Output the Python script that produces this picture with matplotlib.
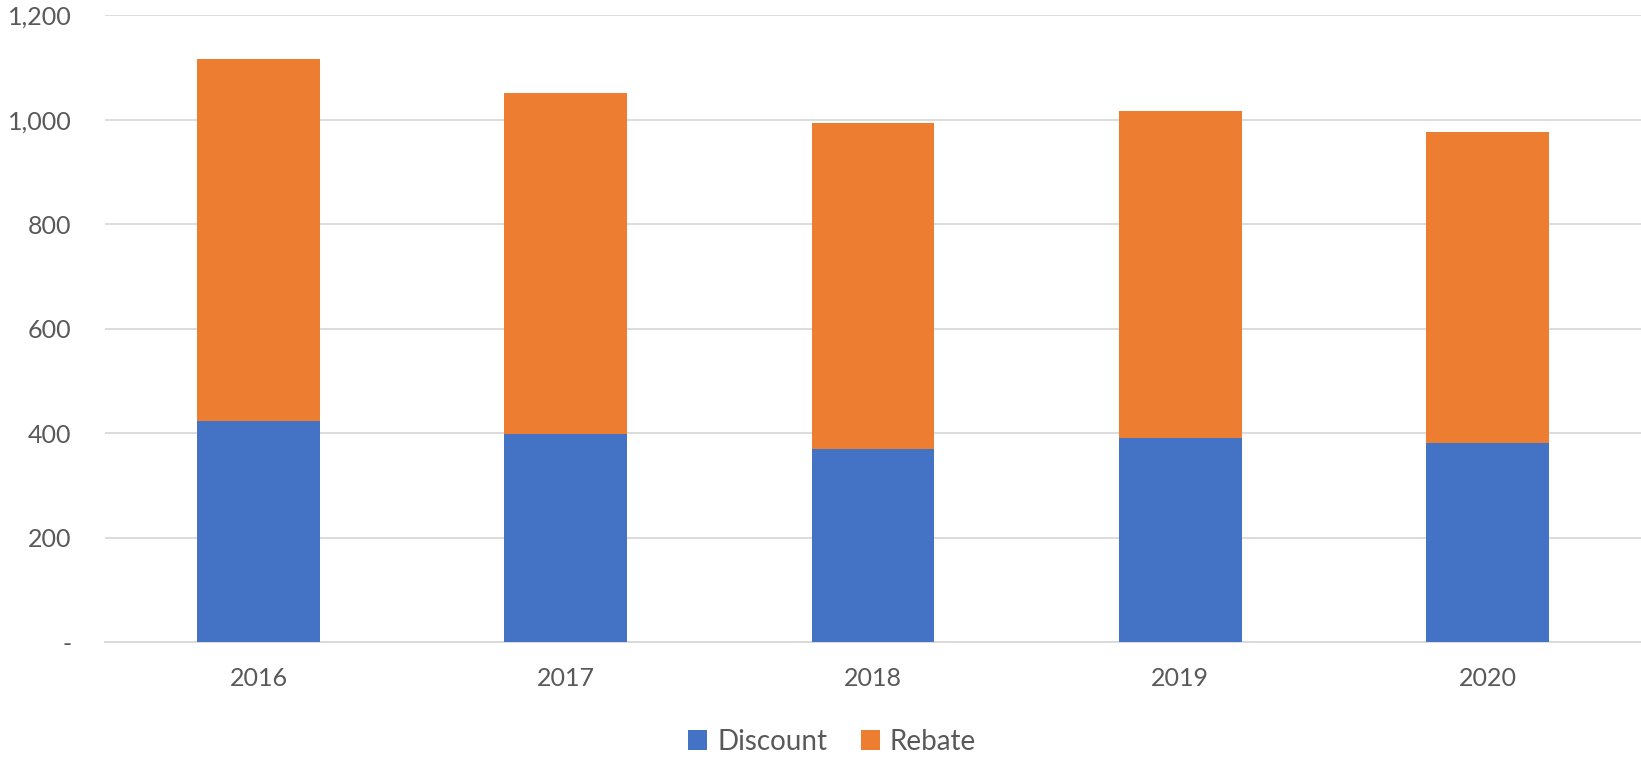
import matplotlib.pyplot as plt
from matplotlib.ticker import FuncFormatter

years = ['2016', '2017', '2018', '2019', '2020']
discount = [423, 398, 370, 390, 381]
rebate = [693, 653, 623, 626, 596]

plt.rcParams['font.family'] = ['Lato', 'DejaVu Sans']
text_color = '#595959'

fig = plt.figure(figsize=(16.41, 7.57), dpi=100)
ax = fig.add_axes([0.064, 0.1517, 0.936, 0.828])

x = range(len(years))
ax.bar(x, discount, width=0.4, color='#4472C4', label='Discount', zorder=3)
ax.bar(x, rebate, width=0.4, bottom=discount, color='#ED7D31', label='Rebate', zorder=3)

ax.set_xlim(-0.5, len(years) - 0.5)
ax.set_ylim(0, 1200)
ax.set_yticks(range(0, 1201, 200))
ax.yaxis.set_major_formatter(FuncFormatter(lambda v, p: '-' if v == 0 else f'{v:,.0f}'))
ax.set_xticks(list(x))
ax.set_xticklabels(years)

ax.yaxis.grid(True, color='#d9d9d9', linewidth=1.3, zorder=0)
for s in ['top', 'right', 'left']:
    ax.spines[s].set_visible(False)
ax.spines['bottom'].set_color('#d9d9d9')
ax.spines['bottom'].set_linewidth(1.3)
ax.spines['bottom'].set_zorder(0)
ax.tick_params(axis='both', length=0, labelsize=18, labelcolor=text_color)
ax.tick_params(axis='y', pad=24)
ax.tick_params(axis='x', pad=18)

fig.legend(loc='center', bbox_to_anchor=(0.507, 0.02), ncol=2, frameon=False,
           fontsize=20, labelcolor=text_color, handlelength=0.7, handleheight=0.7,
           handletextpad=0.35, columnspacing=1.2)

fig.savefig('out.png', dpi=100)
